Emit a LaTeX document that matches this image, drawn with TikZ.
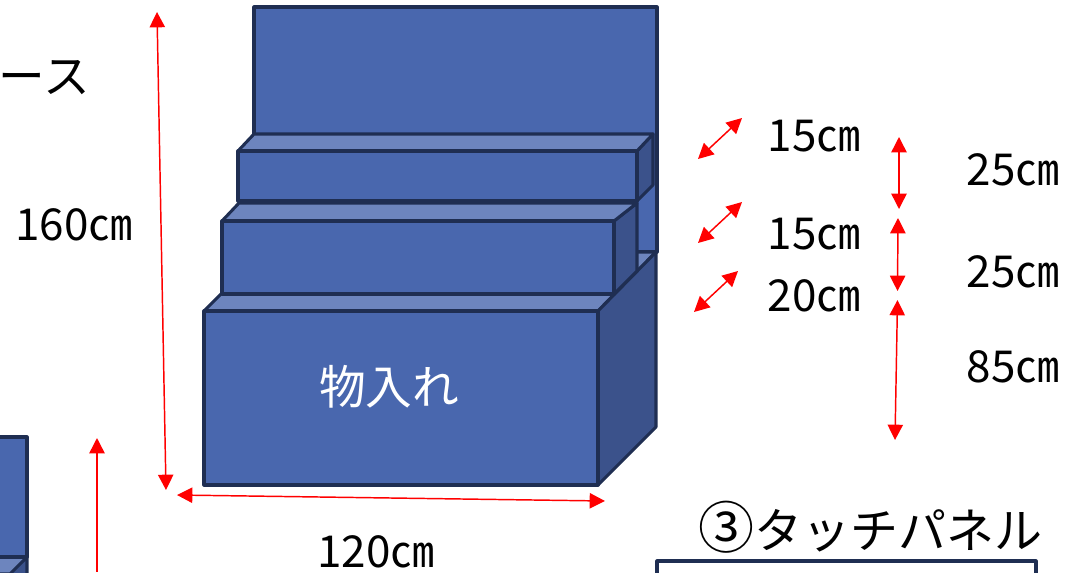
\documentclass[tikz,border=0pt]{standalone}
\usepackage{fontspec}
\usetikzlibrary{arrows.meta}
\setmainfont{Noto Sans CJK JP}
\definecolor{boxfront}{HTML}{4967AE}
\definecolor{boxtop}{HTML}{6D85BE}
\definecolor{boxside}{HTML}{3B528B}
\definecolor{boxline}{HTML}{1F2E52}
\tikzset{
    boxface/.style={draw=boxline, line width=2.3pt, line join=round},
    dimarrow/.style={red, line width=1.1pt, {Triangle[length=11.5pt,width=11.5pt]}-{Triangle[length=11.5pt,width=11.5pt]}},
    onearrow/.style={red, line width=1.1pt, {Triangle[length=11.5pt,width=11.5pt]}-},
    dimlabel/.style={font=\fontsize{33pt}{33pt}\selectfont, inner sep=0pt}
}
\begin{document}
\begin{tikzpicture}[x=0.75pt, y=-0.75pt]
    \useasboundingbox (0,0) rectangle (1067,572);
    \begin{scope}
    \clip (0,0) rectangle (1067,572);
    % back panel
    \draw[boxface, fill=boxfront] (254,7) rectangle (657,252);
    % lowest box
    \draw[boxface, fill=boxtop] (204,311) -- (263,252) -- (656,252) -- (598,311) -- cycle;
    \draw[boxface, fill=boxside] (598,311) -- (656,252) -- (656,427) -- (598,485) -- cycle;
    \draw[boxface, fill=boxfront] (204,311) rectangle (598,485);
    % middle box
    \draw[boxface, fill=boxside] (614,221) -- (637,203) -- (637,271) -- (614,294) -- cycle;
    \draw[boxface, fill=boxtop] (222,221) -- (239,203) -- (637,203) -- (614,221) -- cycle;
    \draw[boxface, fill=boxfront] (222,221) rectangle (614,294);
    % top box
    \draw[boxface, fill=boxside] (637,151) -- (653,134) -- (653,185) -- (637,201) -- cycle;
    \draw[boxface, fill=boxtop] (238,151) -- (254,134) -- (653,134) -- (637,151) -- cycle;
    \draw[boxface, fill=boxfront] (238,151) rectangle (637,201);
    % box cut off on the left
    \draw[boxface, fill=boxside] (27,557) -- (27,590) -- (-10,590) -- cycle;
    \draw[boxface, fill=boxtop] (-20,557) -- (27,557) -- (10,574) -- (-20,574) -- cycle;
    \draw[boxface, fill=boxfront] (-20,437) rectangle (27,557);
    % panel at the bottom
    \draw[boxface, fill=white] (657,561) rectangle (1036,600);
    \end{scope}
    % arrows
    \draw[dimarrow] (157,12) -- (166,490);
    \draw[onearrow] (97,438) -- (97,572);
    \draw[dimarrow] (177,495) -- (605,501);
    \draw[dimarrow] (698,159) -- (742,118);
    \draw[dimarrow] (698,243) -- (742,202);
    \draw[dimarrow] (694,312) -- (738,271);
    \draw[dimarrow] (899,137) -- (899,209);
    \draw[dimarrow] (898,218) -- (897.5,291);
    \draw[dimarrow] (897.5,300) -- (895,440);
    % labels
    \node[dimlabel] (depth1) at (814,136) {15㎝};
    \node[dimlabel] (depth2) at (814,234) {15㎝};
    \node[dimlabel] (depth3) at (814,296) {20㎝};
    \node[dimlabel] (rise1) at (1013,170) {25㎝};
    \node[dimlabel] (rise2) at (1013,272) {25㎝};
    \node[dimlabel] (rise3) at (1013,367) {85㎝};
    \node[dimlabel] (total) at (74,225) {160㎝};
    \node[dimlabel] (width) at (376,552) {120㎝};
    \node[text=white, font=\fontsize{35pt}{35pt}\selectfont, inner sep=0pt] (store) at (389,387) {物入れ};
    \node[anchor=east, font=\fontsize{35pt}{35pt}\selectfont, inner sep=0pt] (space) at (90,78) {ース};
    \node[font=\fontsize{36pt}{36pt}\selectfont, inner sep=0pt] (panel) at (870,527) {{\fontsize{42pt}{42pt}\selectfont ③}タッチパネル};
\end{tikzpicture}
\end{document}
